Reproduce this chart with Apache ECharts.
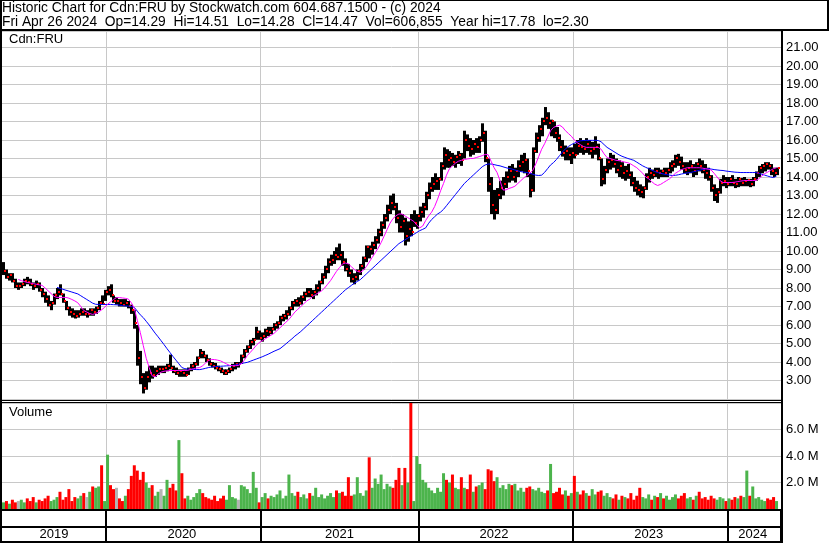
<!DOCTYPE html>
<html><head><meta charset="utf-8">
<script src="https://cdn.jsdelivr.net/npm/echarts@6/dist/echarts.min.js"></script>
<style>html,body{margin:0;padding:0;background:#fff}#c{width:830px;height:543px}</style>
</head><body><div id="c"></div><script>
// ---- data (weekly bars) ----
const firstWeek = '2019-05-03';
const years = ['2019','2020','2021','2022','2023','2024'];
const hi = [9.4,9.0,8.8,8.8,8.5, 8.3,8.3,8.5,8.6,8.5, 8.3,8.4,8.3,8.0,7.8, 7.6,7.3,7.7,8.0,8.2,
 7.7,7.3,7.0,6.9,6.8, 6.8,6.9,6.9,6.8,6.9, 6.9,7.0,7.3,7.6,7.9, 8.1,8.2,7.6,7.5,7.4,
 7.4,7.4,7.3,7.1,6.8, 6.0,4.6,3.4,3.5,3.8, 3.8,3.7,3.8,3.8,3.8, 3.9,4.4,3.8,3.7,3.6,
 3.6,3.6,3.7,3.9,4.0, 4.3,4.7,4.6,4.4,4.2, 4.0,3.95,3.8,3.7,3.6, 3.6,3.7,3.9,4.0,4.0,
 4.4,4.7,4.9,5.2,5.3, 5.9,5.7,5.6,5.8,5.9, 5.9,6.1,6.2,6.5,6.6, 6.8,7.0,7.3,7.4,7.5,
 7.6,7.8,8.0,8.0,7.9, 8.2,8.4,8.8,9.2,9.6, 9.8,10.0,10.2,10.4,10.0, 9.6,9.3,9.0,8.8,9.0,
 9.3,9.7,10.3,10.3,10.5, 10.8,11.2,11.6,12.0,12.5, 13.0,13.1,12.6,12.2,12.0, 11.8,11.6,12.0,12.2,12.0,
 12.4,12.6,13.2,13.7,14.0, 14.2,14.0,14.8,15.6,15.5, 15.4,15.3,15.2,15.4,15.3, 16.5,16.3,16.1,16.0,16.1,
 16.2,16.9,16.5,15.0,14.0, 13.3,13.4,13.8,14.0,14.3, 14.6,14.7,14.5,14.9,15.2, 15.3,15.0,14.2,15.6,16.4,
 16.8,17.2,17.78,17.5,17.1, 17.0,16.7,16.3,16.0,15.7, 15.6,15.6,15.8,16.0,16.1, 16.0,16.1,16.0,15.9,16.2,
 15.8,15.0,14.6,15.0,15.3, 15.2,15.0,14.9,14.8,14.6, 14.7,14.3,14.0,13.8,13.6, 13.5,14.2,14.5,14.4,14.5,
 14.5,14.4,14.5,14.5,14.8, 14.9,15.2,15.25,15.1,14.8, 14.8,14.9,14.7,14.8,15.0, 14.9,14.7,14.5,14.1,13.6,
 13.4,13.9,14.1,14.0,14.0, 14.1,13.9,14.0,13.95,14.0, 13.9,13.9,14.0,14.3,14.6, 14.7,14.8,14.8,14.7,14.5,14.51];
const lo = [8.7,8.5,8.4,8.3,8.0, 7.9,8.0,8.1,8.2,8.1, 7.9,8.0,7.8,7.5,7.2, 7.0,6.8,7.1,7.4,7.6,
 7.2,6.8,6.5,6.4,6.35, 6.4,6.5,6.5,6.4,6.5, 6.5,6.6,6.8,7.1,7.3, 7.6,7.5,7.2,7.1,7.0,
 7.0,7.0,6.9,6.6,5.8, 3.8,2.8,2.3,2.5,2.9, 3.1,3.2,3.3,3.4,3.4, 3.5,3.6,3.4,3.3,3.2,
 3.2,3.2,3.3,3.5,3.6, 3.8,4.2,4.2,4.0,3.8, 3.7,3.6,3.5,3.4,3.3, 3.3,3.4,3.5,3.6,3.7,
 3.9,4.2,4.5,4.7,4.9, 5.2,5.2,5.1,5.3,5.4, 5.5,5.7,5.8,6.0,6.2, 6.3,6.5,6.8,7.0,7.0,
 7.1,7.3,7.5,7.5,7.4, 7.6,7.8,8.2,8.5,8.8, 9.2,9.3,9.5,9.5,9.2, 8.9,8.6,8.3,8.2,8.4,
 8.7,9.0,9.4,9.6,9.8, 10.1,10.4,10.8,11.2,11.6, 12.0,12.2,11.5,11.0,11.0, 10.3,10.5,10.8,11.3,11.2,
 11.6,11.8,12.2,12.8,13.2, 13.3,13.3,13.8,14.4,14.5, 14.5,14.6,14.5,14.7,14.6, 15.0,15.4,15.1,15.2,15.3,
 15.3,15.9,14.8,13.2,12.0, 11.7,12.0,12.8,13.0,13.4, 13.7,13.8,13.7,14.0,14.3, 14.2,14.0,12.9,13.2,15.3,
 15.9,16.2,16.8,16.6,16.2, 16.1,15.9,15.4,15.1,14.9, 14.9,14.7,15.0,15.2,15.3, 15.2,15.3,15.2,15.0,15.2,
 14.9,13.5,13.6,14.2,14.4, 14.5,14.2,14.0,13.9,13.8, 13.9,13.5,13.2,13.0,12.9, 12.85,13.3,13.7,13.9,14.0,
 13.9,14.0,14.0,14.0,14.2, 14.3,14.5,14.6,14.4,14.2, 14.1,14.2,14.0,14.1,14.3, 14.2,13.9,13.8,13.2,12.7,
 12.6,13.1,13.5,13.4,13.5, 13.5,13.4,13.45,13.5,13.5, 13.5,13.45,13.5,13.8,14.0, 14.2,14.3,14.4,14.1,14.0,14.1];
const cl = [8.9,8.6,8.7,8.4,8.1, 8.1,8.2,8.4,8.3,8.2, 8.1,8.2,7.9,7.7,7.4, 7.1,7.2,7.6,7.8,7.7,
 7.3,6.9,6.7,6.6,6.5, 6.6,6.7,6.6,6.6,6.8, 6.7,6.9,7.2,7.15,7.8, 7.9,7.6,7.3,7.3,7.2,
 7.1,7.2,7.0,6.8,6.1, 4.2,3.2,2.6,3.2,3.4, 3.3,3.5,3.6,3.6,3.7, 3.8,3.7,3.5,3.4,3.5,
 3.4,3.3,3.6,3.8,3.9, 4.2,4.5,4.3,4.1,3.9, 3.8,3.7,3.6,3.5,3.4, 3.5,3.6,3.8,3.9,3.9,
 4.3,4.6,4.8,5.1,5.2, 5.6,5.3,5.4,5.7,5.6, 5.8,6.0,6.1,6.4,6.5, 6.6,6.9,7.2,7.3,7.2,
 7.5,7.7,7.8,7.6,7.8, 8.0,8.3,8.6,9.0,9.4, 9.5,9.8,9.7,9.8,9.4, 9.0,8.8,8.5,8.6,8.9,
 9.2,9.6,10.2,10.1,10.3, 10.6,11.0,11.4,11.8,12.2, 12.6,12.4,11.8,11.3,11.6, 10.8,11.2,11.0,11.5,11.9,
 12.1,12.4,13.0,13.4,13.6, 13.8,13.9,14.6,15.2,14.9, 15.0,14.8,15.1,15.2,14.9, 16.0,15.7,15.5,15.8,15.6,
 16.0,16.4,15.0,13.6,12.5, 12.2,13.0,13.4,13.6,14.0, 14.3,14.0,14.3,14.6,14.8, 14.9,14.3,13.3,15.4,16.1,
 16.6,17.0,17.2,16.9,17.0, 16.4,16.1,15.6,15.3,15.4, 15.2,15.3,15.2,15.7,15.6, 15.5,15.8,15.4,15.5,15.6,
 15.0,13.9,14.4,14.8,14.9, 14.7,14.4,14.6,14.2,14.3, 14.1,13.7,13.4,13.3,13.2, 13.4,14.0,14.2,14.1,14.3,
 14.2,14.3,14.2,14.4,14.6, 14.7,15.0,14.8,14.6,14.4, 14.5,14.6,14.3,14.7,14.6, 14.4,14.2,14.0,13.4,13.0,
 13.2,13.7,13.8,13.6,13.9, 13.7,13.6,13.9,13.7,13.8, 13.85,13.6,13.9,14.2,14.5, 14.6,14.7,14.6,14.3,14.2,14.47];
// volume in millions of shares
const vol = [0.5,0.6,0.4,0.7,0.5,0.6,
 0.7,0.5,0.8,0.6,0.9,0.5,0.7,0.6,0.8,1.0,0.6,0.7,0.9,1.3,
 0.7,0.9,1.5,0.6,0.9,0.8,1.0,1.2,0.9,1.3,1.7,1.6,1.7,3.3,0.6,
 4.1,1.8,1.5,1.6,0.8,0.6,1.0,1.5,2.5,3.3,2.9,2.2,2.8,2.0,1.6,1.8,
 1.0,1.3,1.5,1.0,2.2,1.6,1.9,1.4,5.2,2.7,0.8,1.0,0.7,0.9,1.2,1.5,
 1.2,0.9,0.8,0.7,1.0,0.6,0.8,1.0,0.7,1.8,0.9,0.8,0.7,1.8,1.7,1.5,1.2,2.8,1.6,0.5,0.9,
 1.2,0.8,1.0,0.9,1.1,1.4,0.8,1.0,2.6,1.2,1.0,1.3,0.9,1.1,0.8,1.2,1.0,1.6,0.9,1.1,0.8,1.0,1.2,0.9,
 1.4,1.2,1.3,1.0,2.4,1.0,1.1,2.4,1.2,1.0,1.4,3.9,1.6,2.3,1.9,2.6,1.5,1.9,1.7,1.6,2.2,3.1,1.8,3.1,2.0,8.0,0.6,4.0,
 3.4,2.2,2.0,1.6,1.4,1.2,1.6,1.3,2.7,2.2,2.0,2.6,1.6,1.5,2.4,1.6,1.5,2.6,1.3,1.7,1.8,2.0,1.5,3.0,2.9,2.1,
 2.4,1.6,1.8,1.5,1.9,1.8,1.9,1.4,1.6,1.3,1.6,1.7,1.5,1.4,1.6,1.3,1.2,1.4,3.4,1.2,1.3,1.6,1.1,1.4,1.0,1.2,
 2.5,1.3,1.1,1.4,1.2,1.0,1.5,1.1,1.3,1.4,1.0,1.2,0.9,0.8,1.1,0.7,1.0,0.9,0.8,1.2,0.7,1.0,1.6,0.9,0.8,1.1,
 0.7,1.0,0.9,1.2,0.8,1.0,0.7,0.9,1.1,0.8,1.0,1.2,0.8,0.9,0.7,1.0,1.3,0.8,0.9,0.7,1.0,0.8,0.7,0.9,0.8,0.6,
 0.8,0.7,0.9,0.8,1.0,0.9,2.9,1.0,1.7,0.8,0.9,0.7,0.6,0.8,0.7,0.9,0.6];
// short moving average (magenta) and long moving average (blue)
const maShort = [null,null,null,null,null, 8.46,8.4,8.35,8.3,8.27, 8.24,8.2,8.17,8.14,8.0, 7.85,7.7,7.55,7.49,7.49,
 7.49,7.49,7.45,7.38,7.3, 7.2,7.0,6.78,6.7,6.62, 6.57,6.62,6.7,6.82,6.95, 7.12,7.25,7.38,7.48,7.48,
 7.46,7.44,7.4,7.2,6.9, 6.25,5.6,4.9,4.2,3.7, 3.25,3.2,3.35,3.45,3.5, 3.52,3.54,3.54,3.54,3.54,
 3.54,3.54,3.55,3.6,3.64, 3.68,3.7,3.8,3.95,4.08, 4.14,4.13,4.1,4.06,3.98, 3.9,3.82,3.8,3.8,3.81,
 3.9,4.1,4.35,4.52,4.7, 4.9,5.05,5.15,5.25,5.35, 5.45,5.55,5.7,5.85,6.0, 6.15,6.3,6.5,6.7,6.85,
 7.0,7.15,7.3,7.4,7.55, 7.65,7.75,7.85,8.0,8.2, 8.4,8.65,8.9,9.1,9.3, 9.35,9.3,9.15,9.0,8.9,
 8.85,8.95,9.15,9.4,9.65, 9.9,10.15,10.45,10.8,11.15, 11.5,11.75,11.9,12.0,12.0, 11.9,11.8,11.7,11.6,11.4,
 11.25,11.35,11.65,11.9,12.1, 12.4,12.8,13.25,13.65,14.1, 14.45,14.6,14.75,14.85,14.9, 14.95,14.97,15.0,15.0,15.05,
 15.1,15.15,15.22,15.2,14.85, 14.5,14.24,13.8,13.3,13.3, 13.38,13.43,13.5,13.65,13.8, 13.95,14.07,14.2,14.35,14.7,
 15.1,15.5,15.8,16.15,16.5, 16.68,16.75,16.8,16.7,16.5, 16.35,16.2,16.0,15.85,15.75, 15.65,15.6,15.6,15.6,15.6,
 15.6,15.5,15.25,15.05,15.0, 14.95,14.9,14.88,14.85,14.8, 14.77,14.7,14.6,14.5,14.35, 14.2,14.0,13.9,13.75,13.62,
 13.54,13.6,13.7,13.8,13.9, 14.05,14.2,14.3,14.4,14.45, 14.5,14.5,14.5,14.5,14.5, 14.48,14.45,14.42,14.38,14.2,
 14.0,13.8,13.7,13.7,13.7, 13.7,13.72,13.75,13.78,13.8, 13.81,13.81,13.81,13.81,13.9, 14.05,14.18,14.26,14.36,14.45,14.5];
const maLong = [null,null,null,null,null, null,null,null,null,null, null,null,null,null,null, null,null,null,8.03,7.98,
 7.93,7.88,7.83,7.78,7.73, 7.68,7.58,7.48,7.38,7.28, 7.18,7.12,7.11,7.11,7.11, 7.11,7.11,7.1,7.09,7.07,
 7.05,7.03,7.02,7.0,6.95, 6.75,6.55,6.4,6.2,6.0, 5.78,5.56,5.36,5.15,4.94, 4.72,4.51,4.3,4.1,3.9,
 3.7,3.64,3.62,3.61,3.6, 3.59,3.59,3.62,3.66,3.7, 3.73,3.75,3.76,3.77,3.78, 3.79,3.8,3.81,3.84,3.88,
 3.92,3.95,3.98,4.04,4.1, 4.16,4.22,4.28,4.35,4.42, 4.5,4.58,4.65,4.72,4.85, 4.98,5.12,5.25,5.4,5.52,
 5.65,5.8,5.95,6.1,6.25, 6.4,6.55,6.7,6.85,7.0, 7.15,7.3,7.45,7.6,7.75, 7.9,8.02,8.14,8.26,8.35,
 8.45,8.6,8.75,8.9,9.05, 9.2,9.35,9.5,9.65,9.8, 9.95,10.1,10.25,10.4,10.5, 10.6,10.7,10.8,10.9,11.0,
 11.1,11.17,11.25,11.5,11.7, 11.85,12.0,12.1,12.25,12.45, 12.65,12.85,13.05,13.25,13.45, 13.65,13.8,13.95,14.1,14.25,
 14.4,14.55,14.65,14.7,14.7, 14.67,14.63,14.6,14.55,14.5, 14.46,14.43,14.38,14.33,14.29, 14.26,14.24,14.2,14.15,14.1,
 14.08,14.1,14.25,14.45,14.65, 14.78,14.95,15.15,15.35,15.52, 15.65,15.75,15.83,15.9,15.95, 15.97,15.98,15.98,15.98,15.98,
 15.97,15.9,15.75,15.6,15.5, 15.4,15.3,15.2,15.12,15.06, 15.0,14.95,14.9,14.8,14.7, 14.6,14.52,14.45,14.37,14.3,
 14.24,14.2,14.16,14.13,14.1, 14.08,14.09,14.12,14.16,14.19, 14.22,14.24,14.28,14.32,14.36, 14.4,14.43,14.45,14.43,14.4,
 14.38,14.36,14.35,14.32,14.3, 14.28,14.26,14.25,14.24,14.24, 14.24,14.24,14.24,14.24,14.2, 14.15,14.1,14.05,14.0,13.97,14.05];
const priceLabels = [3,4,5,6,7,8,9,10,11,12,13,14,15,16,17,18,19,20,21];
const volLabels = [2,4,6];
const headerLine1 = 'Historic Chart for Cdn:FRU by Stockwatch.com 604.687.1500 - (c) 2024';
const headerLine2 = 'Fri Apr 26 2024  Op=14.29  Hi=14.51  Lo=14.28  Cl=14.47  Vol=606,855  Year hi=17.78  lo=2.30';

// ---- categories: one per week (plus one empty padding slot at the right edge) ----
const weeks = [];
const t0 = Date.parse(firstWeek + 'T00:00:00Z');
for (let i = 0; i <= hi.length; i++) weeks.push(new Date(t0 + i * 7 * 86400000).toISOString().slice(0, 10));
const yearStart = new Set(), yearMid = {};
years.forEach(y => {
  const idx = [];
  for (let i = 0; i < hi.length; i++) if (weeks[i].slice(0, 4) === y) idx.push(i);
  if (idx[0] > 0) yearStart.add(idx[0]);
  yearMid[Math.floor((idx[0] + idx[idx.length - 1]) / 2)] = y;
});

const FONT = '"Liberation Sans", Arial, sans-serif';
const GRID_GRAY = '#c8c8c8';
const GREEN = '#4cb44c', RED = '#ff0000', GRAY = '#b4b4b4';

const chart = echarts.init(document.getElementById('c'), null, {renderer: 'canvas'});
const priceData = hi.map((h, i) => [i, h, lo[i], cl[i]]);
const volData = vol.map((v, i) => {
  const c = i === 0 ? GREEN : (cl[i] > cl[i - 1] ? GREEN : (cl[i] < cl[i - 1] ? RED : GRAY));
  return {value: v, itemStyle: {color: c}};
});

function renderRange(params, api) {
  const i = api.value(0);
  const pH = api.coord([i, api.value(1)]);
  const pL = api.coord([i, api.value(2)]);
  const x = Math.round(pH[0]);
  return {type: 'rect', shape: {x: x - 1, y: pH[1], width: 3, height: Math.max(1, pL[1] - pH[1])}, style: {fill: '#000'}};
}
function renderClose(params, api) {
  const i = api.value(0);
  const pC = api.coord([i, api.value(3)]);
  const x = Math.round(pC[0]);
  return {type: 'rect', shape: {x: x + 1, y: Math.round(pC[1]) - 1, width: 2, height: 2}, style: {fill: RED}};
}

const xBase = {
  type: 'category', data: weeks, boundaryGap: true,
  axisLine: {show: false}, axisTick: {show: false}, axisLabel: {show: false},
  splitLine: {show: true, interval: (i) => yearStart.has(i), lineStyle: {color: GRID_GRAY, width: 1}}
};
const headStyle = {fontSize: 13.8, fontWeight: 'normal', color: '#000', fontFamily: FONT};
const labStyle = {fontSize: 13, fontWeight: 'normal', color: '#000', fontFamily: FONT};

chart.setOption({
  animation: false,
  backgroundColor: '#fff',
  textStyle: {fontFamily: FONT},
  title: [
    {text: headerLine1, left: 2, top: 1, padding: 0, textStyle: headStyle},
    {text: headerLine2, left: 2, top: 15, padding: 0, textStyle: headStyle},
    {text: 'Cdn:FRU', left: 9, top: 33, padding: 0, textStyle: labStyle},
    {text: 'Volume', left: 9, top: 406, padding: 0, textStyle: labStyle}
  ],
  grid: [
    {left: 2, top: 31, width: 779, height: 368},
    {left: 2, top: 403, width: 779, height: 106}
  ],
  xAxis: [
    Object.assign({gridIndex: 0}, xBase),
    Object.assign({}, xBase, {
      gridIndex: 1,
      axisTick: {show: true, interval: (i) => yearStart.has(i), length: 33, lineStyle: {color: '#000', width: 2}},
      axisLabel: {show: true, interval: (i) => yearMid[i] !== undefined, formatter: (v) => v.slice(0, 4),
        margin: 19, fontSize: 13, color: '#000', fontFamily: FONT}
    })
  ],
  yAxis: [
    {gridIndex: 0, type: 'value', position: 'right', min: 2, max: 21.89, interval: 1,
      axisLine: {show: false}, axisTick: {show: false},
      axisLabel: {margin: 5, fontSize: 13, color: '#000', fontFamily: FONT,
        formatter: (v) => priceLabels.includes(Math.round(v * 100) / 100) ? v.toFixed(2) : ''},
      splitLine: {show: true, lineStyle: {color: GRID_GRAY, width: 1}}},
    {gridIndex: 1, type: 'value', position: 'right', min: 0, max: 8, interval: 2,
      axisLine: {show: false}, axisTick: {show: false},
      axisLabel: {margin: 5, fontSize: 13, color: '#000', fontFamily: FONT,
        formatter: (v) => volLabels.includes(v) ? v.toFixed(1) + ' M' : ''},
      splitLine: {show: true, lineStyle: {color: GRID_GRAY, width: 1}}}
  ],
  series: [
    {type: 'custom', xAxisIndex: 0, yAxisIndex: 0, data: priceData, renderItem: renderRange,
      encode: {x: 0, y: [1, 2]}, z: 2},
    {type: 'custom', xAxisIndex: 0, yAxisIndex: 0, data: priceData, renderItem: renderClose,
      encode: {x: 0, y: 3}, z: 3},
    {type: 'line', xAxisIndex: 0, yAxisIndex: 0, data: maLong, symbol: 'none',
      lineStyle: {color: '#0000ff', width: 1}, z: 4},
    {type: 'line', xAxisIndex: 0, yAxisIndex: 0, data: maShort, symbol: 'none',
      lineStyle: {color: '#ff00ff', width: 1}, z: 4},
    {type: 'bar', xAxisIndex: 1, yAxisIndex: 1, data: volData, barWidth: 3, z: 2}
  ],
  graphic: [
    {type: 'rect', shape: {x: 0, y: 0, width: 829, height: 1}, style: {fill: '#000'}, z: 100},
    {type: 'rect', shape: {x: 0, y: 0, width: 2, height: 543}, style: {fill: '#000'}, z: 100},
    {type: 'rect', shape: {x: 827, y: 0, width: 2, height: 31}, style: {fill: '#000'}, z: 100},
    {type: 'rect', shape: {x: 0, y: 29, width: 829, height: 2}, style: {fill: '#000'}, z: 100},
    {type: 'rect', shape: {x: 781, y: 31, width: 2, height: 512}, style: {fill: '#000'}, z: 100},
    {type: 'rect', shape: {x: 2, y: 400, width: 779, height: 1}, style: {fill: '#000'}, z: 100},
    {type: 'rect', shape: {x: 2, y: 402, width: 779, height: 1}, style: {fill: '#000'}, z: 100},
    {type: 'rect', shape: {x: 0, y: 509, width: 783, height: 2}, style: {fill: '#000'}, z: 100},
    {type: 'rect', shape: {x: 0, y: 526, width: 783, height: 2}, style: {fill: '#000'}, z: 100},
    {type: 'rect', shape: {x: 0, y: 541, width: 783, height: 2}, style: {fill: '#000'}, z: 100}
  ]
});
</script></body></html>
